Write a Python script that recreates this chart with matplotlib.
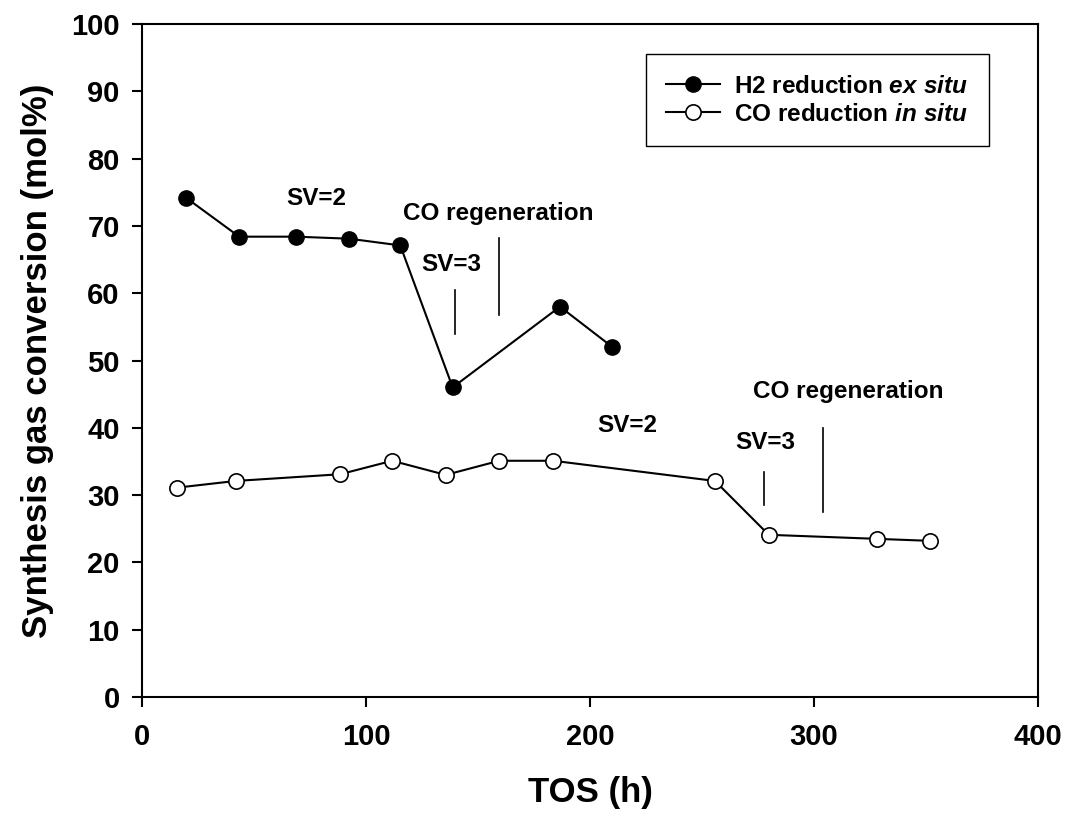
import matplotlib
matplotlib.use("Agg")
import matplotlib.pyplot as plt

plt.rcParams['font.family'] = ['Liberation Sans', 'DejaVu Sans']
plt.rcParams['font.sans-serif'] = ['Liberation Sans']
plt.rcParams['font.weight'] = 'bold'
plt.rcParams['mathtext.fontset'] = 'custom'
plt.rcParams['mathtext.bfit'] = 'Liberation Sans:italic:bold'

# H2 reduction ex situ (filled)
tos_h2 = [19.6, 43.4, 68.8, 92.5, 115.3, 138.7, 186.6, 210.0]
conv_h2 = [74.2, 68.4, 68.4, 68.1, 67.1, 46.0, 58.0, 52.0]

# CO reduction in situ (open)
tos_co = [15.5, 41.8, 88.5, 111.7, 135.6, 159.5, 183.6, 255.8, 279.8, 328.0, 351.8]
conv_co = [31.1, 32.1, 33.1, 35.1, 33.0, 35.1, 35.1, 32.1, 24.1, 23.5, 23.2]

# annotation texts (x, y, label)
notes = [(77.8, 74.0, "SV=2"), (138.2, 64.3, "SV=3"), (159.0, 71.9, "CO regeneration"),
         (216.8, 40.4, "SV=2"), (278.4, 37.8, "SV=3"), (315.3, 45.4, "CO regeneration")]
# marker lines (x, y_low, y_high)
marks = [(139.7, 54.0, 60.5), (159.2, 56.7, 68.2), (277.8, 28.5, 33.5), (304.0, 27.5, 40.0)]

fig = plt.figure(figsize=(10.66, 8.17), dpi=100)
ax = fig.add_axes([0.1332, 0.1469, 0.8405, 0.8237])

ax.plot(tos_h2, conv_h2, '-o', color='black', lw=1.5, ms=11, mfc='black', mec='black',
        label=r"H2 reduction $\mathbfit{ex\ situ}$")
ax.plot(tos_co, conv_co, '-o', color='black', lw=1.5, ms=11, mfc='white', mec='black', mew=1.2,
        label=r"CO reduction $\mathbfit{in\ situ}$")

for x, y, s in notes:
    ax.text(x, y, s, ha='center', va='center', fontsize=17.5, fontweight='bold')
for x, y0, y1 in marks:
    ax.plot([x, x], [y0, y1], color='black', lw=1.2)

ax.set_xlim(0, 400)
ax.set_ylim(0, 100)
ax.set_xticks([0, 100, 200, 300, 400])
ax.set_yticks(range(0, 101, 10))
ax.tick_params(direction='out', length=7, width=1.5, labelsize=21, pad=9,
               top=False, right=False)
ax.tick_params(axis='x', pad=12)
for sp in ax.spines.values():
    sp.set_linewidth(1.5)

ax.set_xlabel("TOS (h)", fontsize=25, fontweight='bold', labelpad=18)
ax.set_ylabel("Synthesis gas conversion (mol%)", fontsize=25, fontweight='bold', labelpad=12)

leg = ax.legend(loc='upper right', bbox_to_anchor=(0.945, 0.955), borderaxespad=0,
                fancybox=False, edgecolor='black', framealpha=1,
                handlelength=2.2, handletextpad=0.6, labelspacing=0.2, borderpad=0.85,
                prop={'size': 17.5, 'weight': 'bold'})
leg.get_frame().set_linewidth(1.0)

fig.savefig("out.png", dpi=100)
